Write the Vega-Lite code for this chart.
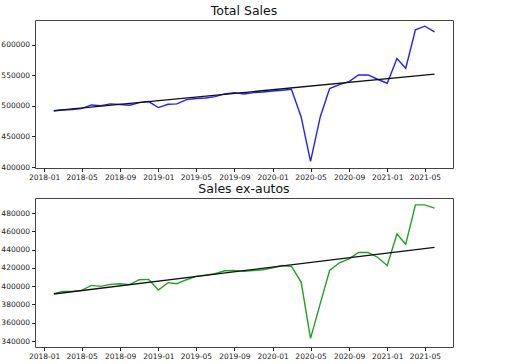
{
  "$schema": "https://vega.github.io/schema/vega-lite/v6.json",
  "background": "white",
  "padding": {"left": 0, "top": 4, "right": 5, "bottom": 0},
  "spacing": 0,
  "config": {
    "font": "DejaVu Sans",
    "view": {"stroke": "#444", "strokeWidth": 1},
    "axis": {"grid": false, "domain": false, "tickColor": "#222", "tickSize": 3.5, "labelFont": "DejaVu Sans", "labelFontSize": 7.5, "labelColor": "#222", "labelPadding": 2, "labelOverlap": false, "title": null},
    "axisY": {"format": "d"},
    "title": {"font": "DejaVu Sans", "fontSize": 12.5, "fontWeight": "normal", "color": "#111", "offset": 3}
  },
  "datasets": {
    "sales": [
      {"date": "2018-02-01", "total": 491500, "exautos": 391900},
      {"date": "2018-03-01", "total": 493100, "exautos": 394400},
      {"date": "2018-04-01", "total": 493800, "exautos": 394400},
      {"date": "2018-05-01", "total": 495400, "exautos": 395500},
      {"date": "2018-06-01", "total": 501300, "exautos": 400900},
      {"date": "2018-07-01", "total": 500300, "exautos": 399800},
      {"date": "2018-08-01", "total": 503000, "exautos": 402000},
      {"date": "2018-09-01", "total": 502000, "exautos": 402700},
      {"date": "2018-10-01", "total": 500800, "exautos": 401700},
      {"date": "2018-11-01", "total": 505200, "exautos": 407100},
      {"date": "2018-12-01", "total": 506900, "exautos": 407500},
      {"date": "2019-01-01", "total": 497000, "exautos": 395800},
      {"date": "2019-02-01", "total": 502400, "exautos": 403900},
      {"date": "2019-03-01", "total": 503000, "exautos": 402700},
      {"date": "2019-04-01", "total": 510100, "exautos": 407100},
      {"date": "2019-05-01", "total": 511800, "exautos": 410700},
      {"date": "2019-06-01", "total": 512700, "exautos": 412100},
      {"date": "2019-07-01", "total": 515000, "exautos": 413600},
      {"date": "2019-08-01", "total": 519300, "exautos": 416900},
      {"date": "2019-09-01", "total": 521500, "exautos": 417200},
      {"date": "2019-10-01", "total": 519300, "exautos": 416200},
      {"date": "2019-11-01", "total": 521500, "exautos": 417200},
      {"date": "2019-12-01", "total": 522500, "exautos": 418000},
      {"date": "2020-01-01", "total": 524200, "exautos": 420200},
      {"date": "2020-02-01", "total": 525300, "exautos": 422700},
      {"date": "2020-03-01", "total": 527000, "exautos": 421600},
      {"date": "2020-04-01", "total": 481700, "exautos": 404500},
      {"date": "2020-05-01", "total": 409300, "exautos": 342900},
      {"date": "2020-06-01", "total": 481700, "exautos": 381000},
      {"date": "2020-07-01", "total": 528000, "exautos": 417200},
      {"date": "2020-08-01", "total": 534600, "exautos": 425600},
      {"date": "2020-09-01", "total": 539500, "exautos": 430000},
      {"date": "2020-10-01", "total": 550300, "exautos": 436800},
      {"date": "2020-11-01", "total": 550300, "exautos": 436800},
      {"date": "2020-12-01", "total": 543300, "exautos": 431700},
      {"date": "2021-01-01", "total": 536800, "exautos": 422700},
      {"date": "2021-02-01", "total": 577100, "exautos": 457100},
      {"date": "2021-03-01", "total": 561300, "exautos": 445900},
      {"date": "2021-04-01", "total": 623900, "exautos": 489000},
      {"date": "2021-05-01", "total": 629900, "exautos": 489000},
      {"date": "2021-06-01", "total": 620600, "exautos": 485400}
    ],
    "trend": [
      {"date": "2018-02-01", "total": 492000, "exautos": 391500},
      {"date": "2021-06-01", "total": 551500, "exautos": 442600}
    ]
  },
  "vconcat": [
    {
      "title": "Total Sales",
      "width": 418,
      "height": 148,
      "encoding": {
        "x": {"field": "date", "type": "temporal", "scale": {"domain": [{"year": 2017, "month": 12, "date": 3}, {"year": 2021, "month": 7, "date": 30}]}, "axis": {"format": "%Y-%m", "values": [{"year": 2018, "month": 1, "date": 1}, {"year": 2018, "month": 5, "date": 1}, {"year": 2018, "month": 9, "date": 1}, {"year": 2019, "month": 1, "date": 1}, {"year": 2019, "month": 5, "date": 1}, {"year": 2019, "month": 9, "date": 1}, {"year": 2020, "month": 1, "date": 1}, {"year": 2020, "month": 5, "date": 1}, {"year": 2020, "month": 9, "date": 1}, {"year": 2021, "month": 1, "date": 1}, {"year": 2021, "month": 5, "date": 1}]}},
        "y": {"field": "total", "type": "quantitative", "scale": {"domain": [398400, 640000], "nice": false, "zero": false}, "axis": {"values": [400000, 450000, 500000, 550000, 600000]}}
      },
      "layer": [
        {
          "data": {"name": "sales"},
          "mark": {"type": "line", "color": "#2020ff", "strokeWidth": 1.4}
        },
        {
          "data": {"name": "trend"},
          "mark": {"type": "line", "color": "#111", "strokeWidth": 1.3}
        }
      ]
    },
    {
      "title": "Sales ex-autos",
      "width": 418,
      "height": 149,
      "encoding": {
        "x": {"field": "date", "type": "temporal", "scale": {"domain": [{"year": 2017, "month": 12, "date": 3}, {"year": 2021, "month": 7, "date": 30}]}, "axis": {"format": "%Y-%m", "values": [{"year": 2018, "month": 1, "date": 1}, {"year": 2018, "month": 5, "date": 1}, {"year": 2018, "month": 9, "date": 1}, {"year": 2019, "month": 1, "date": 1}, {"year": 2019, "month": 5, "date": 1}, {"year": 2019, "month": 9, "date": 1}, {"year": 2020, "month": 1, "date": 1}, {"year": 2020, "month": 5, "date": 1}, {"year": 2020, "month": 9, "date": 1}, {"year": 2021, "month": 1, "date": 1}, {"year": 2021, "month": 5, "date": 1}]}},
        "y": {"field": "exautos", "type": "quantitative", "scale": {"domain": [333500, 496500], "nice": false, "zero": false}, "axis": {"values": [340000, 360000, 380000, 400000, 420000, 440000, 460000, 480000]}}
      },
      "layer": [
        {
          "data": {"name": "sales"},
          "mark": {"type": "line", "color": "#22a022", "strokeWidth": 1.4}
        },
        {
          "data": {"name": "trend"},
          "mark": {"type": "line", "color": "#111", "strokeWidth": 1.3}
        }
      ]
    }
  ]
}
